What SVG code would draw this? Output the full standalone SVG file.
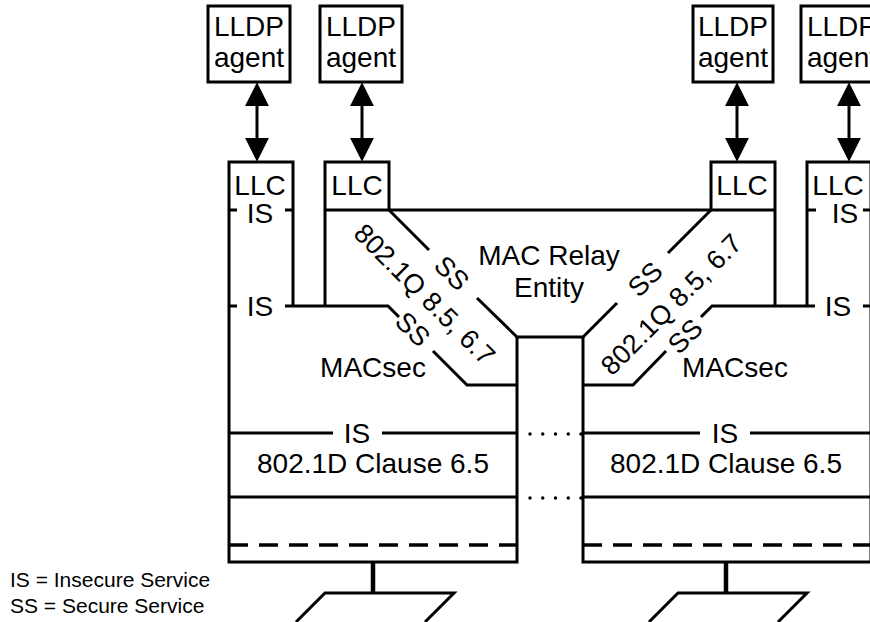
<svg xmlns="http://www.w3.org/2000/svg" width="870" height="622" viewBox="0 0 870 622">
<style>
.ln{fill:none;stroke:#000;stroke-width:3;stroke-linejoin:miter}
.box{fill:#fff;stroke:#000;stroke-width:3}
.t{font-family:"Liberation Sans",Arial,sans-serif;font-size:28px;fill:#000;text-anchor:middle}
.d{font-family:"Liberation Sans",Arial,sans-serif;font-size:27px;fill:#000;text-anchor:middle}
.lg{font-family:"Liberation Sans",Arial,sans-serif;font-size:21px;fill:#000}
.dash{fill:none;stroke:#000;stroke-width:3.5;stroke-dasharray:19 11}
.dot{fill:none;stroke:#000;stroke-width:3.5;stroke-linecap:round;stroke-dasharray:0 12.75}
.stem{fill:none;stroke:#000;stroke-width:4.5}
</style>
<defs>
<marker id="ah" markerUnits="userSpaceOnUse" markerWidth="24" markerHeight="24" viewBox="0 -11 22 22" refX="2" refY="0" orient="auto-start-reverse">
<path d="M0,-11 L22,0 L0,11 z" fill="#000"/>
</marker>
</defs>
<rect width="870" height="622" fill="#fff"/>

<g id="lldp1"><rect class="box" x="208" y="6" width="82" height="76"/><text class="t" x="249" y="36">LLDP</text><text class="t" x="249" y="67">agent</text></g>
<g id="lldp2"><rect class="box" x="320" y="6" width="82" height="76"/><text class="t" x="361" y="36">LLDP</text><text class="t" x="361" y="67">agent</text></g>
<g id="lldp3"><rect class="box" x="693" y="6" width="80" height="76"/><text class="t" x="733" y="36">LLDP</text><text class="t" x="733" y="67">agent</text></g>
<g id="lldp4"><rect class="box" x="801" y="6" width="82" height="76"/><text class="t" x="842" y="36">LLDP</text><text class="t" x="842" y="67">agent</text></g>

<g id="port-left">
<path class="ln" d="M293,306 V162 H229 V562 H517 V337"/>
<path class="ln" d="M229,210 H237 M285,210 H293 M229,306 H237"/>
<path class="ln" d="M285,306 H388 L399,317 M433,351 L467,385 H517"/>
<path class="ln" d="M229,433 H333 M382,433 H517 M229,497 H517"/>
<path class="dash" d="M229,545 H517"/>
<text class="t" x="260" y="195">LLC</text>
<text class="t" x="260" y="223">IS</text>
<text class="t" x="260" y="316">IS</text>
<text class="t" x="373" y="377">MACsec</text>
<text class="t" x="357" y="443">IS</text>
<text class="t" x="373" y="473">802.1D Clause 6.5</text>
<text class="d" transform="translate(413,329) rotate(45)" y="9.7">SS</text>
</g>

<g id="llc-left"><path class="ln" d="M325,306 V162 H389 V210"/><text class="t" x="357" y="195">LLC</text></g>

<g id="relay">
<path class="ln" d="M325,210 H711"/>
<path class="ln" d="M389,210 L429,250 M477,298 L517,337 H583 L617,303 M668,253 L711,210"/>
<text class="t" x="549" y="265">MAC Relay</text>
<text class="t" x="549" y="297">Entity</text>
<text class="d" transform="translate(452,273) rotate(45)" y="9.7">SS</text>
<text class="d" transform="translate(645,279) rotate(-45)" y="9.7">SS</text>
<text class="d" transform="translate(425,294) rotate(45)" y="9.7">802.1Q 8.5, 6.7</text>
<text class="d" transform="translate(671,304) rotate(-45)" y="9.7">802.1Q 8.5, 6.7</text>
</g>

<g id="llc-right"><path class="ln" d="M775,306 V162 H711 V210 H775"/><text class="t" x="742" y="195">LLC</text></g>

<g id="port-right">
<path class="ln" d="M807,306 V162 H871 V562 H583 V337"/>
<path class="ln" d="M807,210 H816 M863,210 H871 M863,306 H871"/>
<path class="ln" d="M815,306 H712 L701,317 M666,351 L633,385 H583"/>
<path class="ln" d="M583,433 H700 M750,433 H871 M583,497 H871"/>
<path class="dash" d="M583,545 H871"/>
<text class="t" x="838" y="195">LLC</text>
<text class="t" x="845" y="223">IS</text>
<text class="t" x="838" y="316">IS</text>
<text class="t" x="735" y="377">MACsec</text>
<text class="t" x="725" y="443">IS</text>
<text class="t" x="726" y="473">802.1D Clause 6.5</text>
<text class="d" transform="translate(685,336) rotate(-45)" y="9.7">SS</text>
</g>

<g id="media">
<path class="dot" d="M530,434 H582 M530,498 H582"/>
<path class="stem" d="M373,562 V593 M726,562 V593"/>
<path class="ln" d="M296,622 L325,593 H454 L425,622 M649,622 L678,593 H807 L778,622"/>
</g>

<g id="connectors">
<path class="ln" d="M257,104 V140" marker-start="url(#ah)" marker-end="url(#ah)"/>
<path class="ln" d="M362,104 V140" marker-start="url(#ah)" marker-end="url(#ah)"/>
<path class="ln" d="M737,104 V140" marker-start="url(#ah)" marker-end="url(#ah)"/>
<path class="ln" d="M849,104 V140" marker-start="url(#ah)" marker-end="url(#ah)"/>
</g>

<g id="legend">
<text class="lg" x="10" y="587">IS = Insecure Service</text>
<text class="lg" x="10" y="613">SS = Secure Service</text>
</g>
</svg>
